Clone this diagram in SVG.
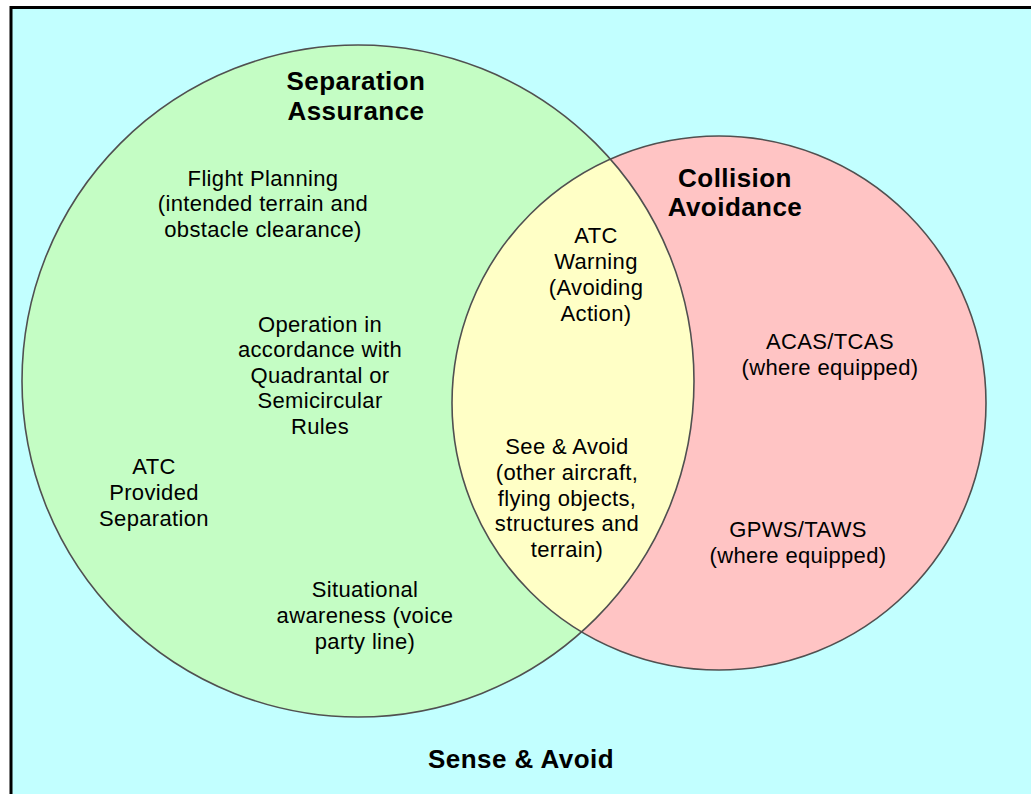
<svg xmlns="http://www.w3.org/2000/svg" width="1031" height="794" viewBox="0 0 1031 794">
<style>
.c{stroke:#505050;stroke-width:1.6}
.t{font-family:"Liberation Sans",Arial,sans-serif;font-size:22px;letter-spacing:0.35px;fill:#000;text-anchor:middle}
.b{font-family:"Liberation Sans",Arial,sans-serif;font-size:26px;letter-spacing:0.45px;font-weight:bold;fill:#000;text-anchor:middle}
</style>
<defs>
<clipPath id="gc"><circle cx="358" cy="381" r="336"/></clipPath>
</defs>
<rect x="0" y="0" width="1031" height="794" fill="#ffffff"/>
<rect x="11" y="7.5" width="1040" height="800" fill="#c2ffff" stroke="#000" stroke-width="3"/>
<g id="separation-assurance">
<circle cx="358" cy="381" r="336" fill="#c4fdc4"/>
</g>
<g id="collision-avoidance">
<circle cx="719" cy="403" r="267" fill="#ffc4c4"/>
</g>
<g id="overlap">
<circle cx="719" cy="403" r="267" fill="#ffffc6" clip-path="url(#gc)"/>
</g>
<g id="outlines" fill="none">
<circle class="c" cx="358" cy="381" r="336"/>
<circle class="c" cx="719" cy="403" r="267"/>
</g>
<g id="labels">
<text class="b" x="356" y="90">Separation</text>
<text class="b" x="356" y="120">Assurance</text>
<text class="b" x="735" y="187">Collision</text>
<text class="b" x="735" y="216">Avoidance</text>
<text class="b" x="521" y="768">Sense &amp; Avoid</text>
</g>
<g id="flight-planning">
<text class="t" x="263" y="186">Flight Planning</text>
<text class="t" x="263" y="211">(intended terrain and</text>
<text class="t" x="263" y="237">obstacle clearance)</text>
</g>
<g id="atc-warning">
<text class="t" x="596" y="243">ATC</text>
<text class="t" x="596" y="269">Warning</text>
<text class="t" x="596" y="295">(Avoiding</text>
<text class="t" x="596" y="321">Action)</text>
</g>
<g id="operation">
<text class="t" x="320" y="332">Operation in</text>
<text class="t" x="320" y="357">accordance with</text>
<text class="t" x="320" y="383">Quadrantal or</text>
<text class="t" x="320" y="408">Semicircular</text>
<text class="t" x="320" y="434">Rules</text>
</g>
<g id="acas">
<text class="t" x="830" y="349">ACAS/TCAS</text>
<text class="t" x="830" y="375">(where equipped)</text>
</g>
<g id="atc-provided">
<text class="t" x="154" y="474">ATC</text>
<text class="t" x="154" y="500">Provided</text>
<text class="t" x="154" y="526">Separation</text>
</g>
<g id="see-avoid">
<text class="t" x="567" y="454">See &amp; Avoid</text>
<text class="t" x="567" y="480">(other aircraft,</text>
<text class="t" x="567" y="506">flying objects,</text>
<text class="t" x="567" y="531">structures and</text>
<text class="t" x="567" y="557">terrain)</text>
</g>
<g id="gpws">
<text class="t" x="798" y="537">GPWS/TAWS</text>
<text class="t" x="798" y="563">(where equipped)</text>
</g>
<g id="situational">
<text class="t" x="365" y="597">Situational</text>
<text class="t" x="365" y="623">awareness (voice</text>
<text class="t" x="365" y="649">party line)</text>
</g>
<g id="connectors"></g>
</svg>
